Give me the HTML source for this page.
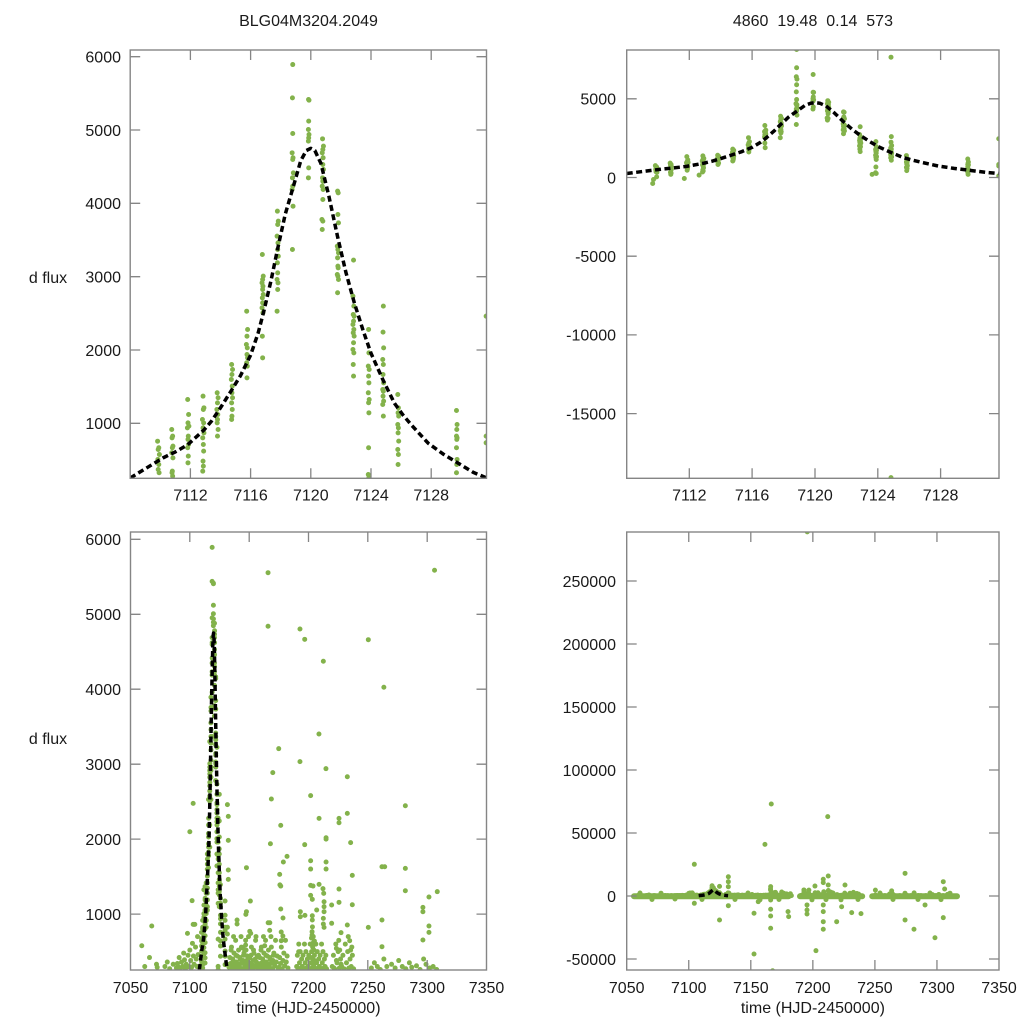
<!DOCTYPE html>
<html>
<head>
<meta charset="utf-8">
<style>
html,body{margin:0;padding:0;background:#fff;width:1024px;height:1024px;overflow:hidden;}
svg{display:block;position:absolute;left:0;top:0;}
text{font-family:"Liberation Sans",Arial,sans-serif;font-size:16px;fill:#1a1a1a;}
.dots{fill:none;stroke:#83b24b;stroke-width:5;stroke-linecap:round;vector-effect:non-scaling-stroke;}
.curve{fill:none;stroke:#000;stroke-width:3.5;stroke-dasharray:6 3.5;stroke-linejoin:round;vector-effect:non-scaling-stroke;}
.frame{fill:none;stroke:#858585;stroke-width:1.4;}
.tk{stroke:#858585;stroke-width:1.3;fill:none;}
</style>
</head>
<body>
<svg width="1024" height="1024" viewBox="0 0 1024 1024" xmlns="http://www.w3.org/2000/svg">
<defs>
<clipPath id="cTL"><rect x="130.2" y="50" width="356.3" height="428.3"/></clipPath>
<clipPath id="cTR"><rect x="626.7" y="50" width="372.3" height="428.3"/></clipPath>
<clipPath id="cBL"><rect x="130.5" y="532" width="356" height="438"/></clipPath>
<clipPath id="cBR"><rect x="626.7" y="532" width="372.3" height="438"/></clipPath>

<path id="ev" class="dots" d="M109.82 756h0M109.9 666h0M109.86 643h0M109.94 575h0M109.84 507h0M109.9 438h0M109.86 370h0M109.92 325h0
M110.76 916h0M110.82 825h0M110.78 802h0M110.84 689h0M110.8 666h0M110.76 598h0M110.84 529h0M110.8 347h0M110.78 325h0M110.82 280h0
M111.82 1325h0M111.88 1120h0M111.84 1006h0M111.9 961h0M111.8 938h0M111.86 825h0M111.84 780h0M111.88 711h0M111.82 666h0M111.86 552h0M111.84 461h0
M112.84 1370h0M112.9 1211h0M112.86 1189h0M112.8 1052h0M112.88 1006h0M112.84 938h0M112.9 870h0M112.82 802h0M112.86 711h0M112.88 620h0M112.84 484h0M112.86 416h0M112.82 347h0
M113.78 1416h0M113.84 1348h0M113.8 1279h0M113.76 1189h0M113.82 1120h0M113.8 1052h0M113.78 1006h0M113.84 916h0M113.8 825h0
M114.74 1802h0M114.8 1734h0M114.76 1666h0M114.72 1598h0M114.78 1507h0M114.76 1416h0M114.8 1348h0M114.74 1279h0M114.78 1189h0M114.76 1098h0M114.74 1052h0
M115.74 2529h0M115.8 2279h0M115.76 2188h0M115.72 2075h0M115.78 2029h0M115.76 1938h0M115.8 1893h0M115.74 1825h0M115.78 1779h0M115.76 1620h0
M116.78 3302h0M116.84 3007h0M116.8 2961h0M116.76 2916h0M116.82 2870h0M116.8 2825h0M116.84 2757h0M116.78 2711h0M116.8 2643h0M116.76 2575h0M116.82 2507h0M116.78 2188h0M116.8 1893h0
M117.78 3893h0M117.84 3757h0M117.8 3711h0M117.76 3552h0M117.82 3461h0M117.8 3370h0M117.84 3279h0M117.78 3189h0M117.8 3052h0M117.76 2961h0M117.82 2916h0M117.8 2825h0M117.76 2529h0
M118.8 5893h0M118.78 5439h0M118.8 4952h0M118.76 4689h0M118.82 4621h0M118.8 4598h0M118.84 4416h0M118.78 4348h0M118.8 4234h0M118.76 4189h0M118.82 3961h0M118.78 3370h0
M119.85 5416h0M119.88 5407h0M119.86 5121h0M119.84 5007h0M119.88 4939h0M119.86 4893h0M119.84 4848h0M119.86 4484h0M119.84 4348h0
M120.78 4880h0M120.84 4780h0M120.8 4734h0M120.76 4689h0M120.82 4621h0M120.8 4530h0M120.84 4462h0M120.78 4348h0M120.8 4302h0M120.76 4234h0M120.82 4189h0M120.8 4052h0M120.74 3780h0M120.8 3757h0M120.76 3643h0
M121.78 4166h0M121.82 4143h0M121.8 3848h0M121.84 3734h0M121.76 3416h0M121.8 3370h0M121.84 3325h0M121.78 3257h0M121.8 3143h0M121.82 3120h0M121.76 3029h0M121.8 3007h0M121.84 2961h0M121.78 2780h0
M122.84 3225h0M122.8 2734h0M122.86 2598h0M122.82 2484h0M122.88 2461h0M122.84 2393h0M122.8 2348h0M122.86 2280h0M122.82 2234h0M122.88 2189h0M122.84 2098h0M122.8 2007h0M122.86 1961h0M122.82 1802h0M122.84 1643h0
M123.84 2280h0M123.86 1961h0M123.82 1780h0M123.88 1734h0M123.84 1643h0M123.86 1552h0M123.82 1416h0M123.88 1325h0M123.84 1280h0M123.86 1143h0M123.84 666h0M123.82 302h0M123.86 257h0
M124.82 2598h0M124.8 2243h0M124.84 2029h0M124.78 1870h0M124.82 1802h0M124.8 1666h0M124.84 1552h0M124.78 1461h0M124.82 1438h0M124.8 1370h0M124.84 1302h0M124.78 1257h0M124.82 1098h0
M125.78 1393h0M125.82 1211h0M125.8 1143h0M125.84 1098h0M125.78 984h0M125.82 938h0M125.8 870h0M125.84 757h0M125.78 643h0M125.82 575h0M125.8 438h0
M129.68 1175h0M129.72 984h0M129.7 916h0M129.68 825h0M129.72 802h0M129.7 780h0M129.68 666h0M129.72 507h0M129.7 438h0M129.68 325h0M129.7 200h0
M131.65 2461h0M131.65 825h0M131.65 734h0M131.65 100h0
M109.65 -380h0M109.7 -127h0M109.9 38h0M110.8 200h0M111.66 -63h0M112.6 150h0M123.6 200h0"/>

<path id="evx" class="dots" d="M118.8 8130h0M118.8 6971h0M118.78 6400h0M118.82 6250h0M119.85 6546h0M124.8 7643h0M124.8 -19066h0"/>

<path id="bl" class="dots" d="M59.5 578h0M67.9 841h0M165.9 5555h0M306.2 5587h0M165.9 4840h0M192.8 4804h0M196.8 4666h0M250.4 4661h0M212.5 4373h0M263.5 4026h0M208.8 3403h0M174.9 3207h0M192.8 3034h0M214.7 2940h0M169.9 2887h0M232.7 2833h0M201.8 2580h0M168.7 2535h0M102.8 2477h0M281.6 2446h0M232.7 2344h0M208.9 2277h0M225.7 2277h0M225.7 2219h0M100 2099h0M176.6 2184h0M214.8 2019h0M214.8 2001h0M132.4 2304h0M132.4 1984h0M167.9 1939h0M196.8 1926h0M235.5 1953h0M181.9 1770h0M178.8 1695h0M201.8 1712h0M201.8 1601h0M214.8 1695h0M214.8 1601h0M261.9 1632h0M264.2 1632h0M281.6 1610h0M147.7 1619h0M132.4 1588h0M132.4 1463h0M175.7 1530h0M176.6 1374h0M175.9 1390h0M236.9 1517h0M201.8 1383h0M203.8 1374h0M208.9 1397h0M212.2 1339h0M212.8 1277h0M225.7 1334h0M281.6 1312h0M308.5 1299h0M301.5 1228h0M101.9 1179h0M151 1174h0M201.8 1250h0M203.2 1197h0M219.5 1121h0M225.7 1157h0M236.9 1125h0M296.4 1090h0M296.4 1032h0M213.1 1165h0M213.1 1099h0M213.1 1032h0M176.6 1068h0M193.1 1032h0M193.1 965h0M147.7 1032h0M147.2 996h0M203.2 978h0M203.2 921h0M206.9 1054h0M197 983h0M178.5 948h0M139.8 921h0M139.8 868h0M166 885h0M167.4 885h0M212.5 943h0M212.5 868h0M219.5 877h0M232.7 854h0M250.4 823h0M261.9 921h0M104.2 863h0M102.8 863h0M301.5 841h0M301.5 756h0M150.5 770h0M151.3 743h0M167.3 783h0M177 761h0M178.4 707h0M177 645h0M203 765h0M204 700h0M205 640h0M203.5 610h0M213.1 823h0M227.4 752h0M98 743h0M296.4 654h0M234.7 645h0M261.9 565h0M147 587h0M144.8 543h0M163.1 578h0M191.7 498h0M223.5 543h0M226.3 520h0M235.5 520h0
M71.9 330h0M72.5 290h0M79 300h0M81 360h0M83 270h0M86 330h0M62 300h0M66 420h0
M88.7 280h0M89.5 340h0M90.2 300h0M91 420h0M92 270h0M93 360h0M94 300h0M94.8 480h0M95.5 390h0M96.3 270h0M97 330h0M98.5 450h0M99.2 300h0M100 520h0M100.7 380h0M101.5 290h0M102.2 610h0M103 440h0M103.6 330h0M104.8 560h0M105.4 400h0M106 300h0M106.5 700h0M107 460h0
M133 290h0M133.7 420h0M134.4 340h0M135.1 560h0M135.8 270h0M136.5 380h0M137.2 480h0M137.9 310h0M138.6 650h0M139.3 360h0M140 440h0M140.7 280h0M141.4 290h0M142.1 420h0M142.8 340h0M143.5 560h0M144.2 270h0M144.9 380h0M145.6 480h0M146.3 310h0M147 650h0M147.7 360h0M148.4 440h0M149.1 280h0M149.8 290h0M150.5 420h0M151.2 340h0M151.9 560h0M152.6 270h0M153.3 380h0M154 480h0M154.7 310h0M155.4 650h0M156.1 360h0M156.8 440h0M157.5 280h0M158.2 290h0M158.9 420h0M159.6 340h0M160.3 560h0M161 270h0M161.7 380h0M162.4 480h0M163.1 310h0M163.8 650h0M164.5 360h0M165.2 440h0M165.9 280h0M166.6 290h0M167.3 420h0M168 340h0M168.7 560h0M169.4 270h0M170.1 380h0M170.8 480h0M171.5 310h0M172.2 650h0M172.9 360h0M173.6 440h0M174.3 280h0M175 290h0M175.7 420h0M176.4 340h0M177.1 560h0M177.8 270h0M178.5 380h0M179.2 480h0M179.9 310h0M180.6 650h0M181.3 360h0M182 440h0M182.7 280h0
M133.35 330h0M134.05 260h0M134.75 520h0M135.45 300h0M136.15 400h0M136.85 700h0M137.55 350h0M138.25 270h0M138.95 450h0M139.65 330h0M140.35 260h0M141.05 520h0M141.75 300h0M142.45 400h0M143.15 700h0M143.85 350h0M144.55 270h0M145.25 450h0M145.95 330h0M146.65 260h0M147.35 520h0M148.05 300h0M148.75 400h0M149.45 700h0M150.15 350h0M150.85 270h0M151.55 450h0M152.25 330h0M152.95 260h0M153.65 520h0M154.35 300h0M155.05 400h0M155.75 700h0M156.45 350h0M157.15 270h0M157.85 450h0M158.55 330h0M159.25 260h0M159.95 520h0M160.65 300h0M161.35 400h0M162.05 700h0M162.75 350h0M163.45 270h0M164.15 450h0M164.85 330h0M165.55 260h0M166.25 520h0M166.95 300h0M167.65 400h0M168.35 700h0M169.05 350h0M169.75 270h0M170.45 450h0
M190 300h0M190.6 450h0M191.2 270h0M191.8 600h0M192.4 350h0M193 500h0M193.6 280h0M194.2 400h0M194.8 300h0M195.4 450h0M196 270h0M196.6 600h0M197.2 350h0M197.8 500h0M198.4 280h0M199 400h0M199.6 300h0M200.2 450h0M200.8 270h0M201.4 600h0M202 350h0M202.6 500h0M203.2 280h0M203.8 400h0M204.4 300h0M205 450h0M205.6 270h0M206.2 600h0M206.8 350h0M207.4 500h0M208 280h0M208.6 400h0M209.2 300h0M209.8 450h0M210.4 270h0M211 600h0M211.6 350h0M212.2 500h0M212.8 280h0M213.4 400h0M214 300h0M214.6 450h0M215.2 270h0
M202.5 680h0M203.5 560h0M204.5 520h0M203 720h0M205 380h0M202 420h0M204 330h0M203.3 830h0
M220 300h0M221 450h0M222 270h0M223 600h0M224 350h0M225 500h0M226 280h0M227 400h0M228 300h0M229 450h0M230 270h0M231 600h0M232 350h0M233 500h0M234 280h0M235 400h0M236 300h0M237 450h0M238 270h0M223.5 380h0M225.5 650h0M227.5 330h0M233.5 700h0M236.5 560h0M221.5 280h0
M253 280h0M255.5 350h0M258 300h0M260.5 260h0M263.5 400h0M266 300h0M270 330h0M273 280h0M276 380h0M279 300h0M282 270h0M285 350h0M287 290h0M291 310h0M294 260h0M297 400h0M299 330h0M302 280h0M305 300h0M308 260h0"/>

<path id="blx" class="dots" d="M104.5 25150h0M104.5 -5800h0M161.4 41000h0M131.9 15300h0M131.9 11350h0M131.9 7380h0M131.9 -7700h0M152.6 -46000h0M152.6 -13700h0M156 -4500h0M166 7400h0M166 -3200h0M166 -10500h0M166 -15900h0M166 -25600h0M167.6 -59300h0M180 -12400h0M180.5 -16400h0M195.3 -7100h0M195.3 -11100h0M195.3 -14300h0M201.7 7900h0M202.5 -43400h0M208.4 13300h0M208.4 10600h0M208.4 -7100h0M208.4 -12400h0M208.4 -20400h0M208.4 -26400h0M212.4 15900h0M212.4 8700h0M219.2 -20400h0M223.2 -8500h0M225.9 8700h0M231.3 -13200h0M238.8 -14000h0M274.3 18000h0M274.3 -19000h0M281.5 -26400h0M290.4 -7100h0M298.4 -33100h0M305.1 11350h0M305.1 -17200h0M166.5 73000h0M212 63000h0M195.5 289000h0"/>

<path id="cv" class="curve" d="M108 254L109 380L110.2 530L111 610L111.8 705L112.9 909L113.4 1030L113.9 1180L114.67 1430L115.33 1650L116 1930L116.5 2230L116.9 2546L117.35 2940L117.78 3364L118.3 3850L118.9 4273L119.33 4580L119.7 4720L120 4750L120.27 4720L120.67 4546L121.2 4100L121.78 3545L122.33 3060L122.9 2637L123.47 2270L124 1955L124.8 1590L125.56 1273L126.1 1120L126.67 980L127.8 728L128.8 580L129.8 455L130.8 330L131.7 254"/>
</defs>

<rect x="0" y="0" width="1024" height="1024" fill="#fff"/>

<!-- Titles -->
<text x="308.5" y="26" text-anchor="middle">BLG04M3204.2049</text>
<text x="812.9" y="26" text-anchor="middle" xml:space="preserve" style="white-space:pre">4860  19.48  0.14  573</text>

<!-- y labels -->
<text x="48" y="283" text-anchor="middle">d flux</text>
<text x="48" y="744" text-anchor="middle">d flux</text>

<!-- x labels -->
<text x="308.5" y="1013" text-anchor="middle">time (HJD-2450000)</text>
<text x="812.9" y="1013" text-anchor="middle">time (HJD-2450000)</text>

<!-- ===== Top-left ===== -->
<g clip-path="url(#cTL)">
  <g transform="matrix(15.05 0 0 -0.07332 -1495.2 496.62)">
    <use href="#ev"/>
    <use href="#cv"/>
  </g>
</g>
<rect class="frame" x="130.2" y="50" width="356.3" height="428.3"/>
<path class="tk" d="M130.2 56.7h10M130.2 130h10M130.2 203.3h10M130.2 276.7h10M130.2 350h10M130.2 423.3h10
M486.5 56.7h-10M486.5 130h-10M486.5 203.3h-10M486.5 276.7h-10M486.5 350h-10M486.5 423.3h-10
M190.4 478.3v-10M250.6 478.3v-10M310.8 478.3v-10M371 478.3v-10M431.2 478.3v-10
M190.4 50v10M250.6 50v10M310.8 50v10M371 50v10M431.2 50v10"/>
<g text-anchor="end">
<text x="121" y="62.5">6000</text>
<text x="121" y="135.8">5000</text>
<text x="121" y="209.1">4000</text>
<text x="121" y="282.5">3000</text>
<text x="121" y="355.8">2000</text>
<text x="121" y="429.1">1000</text>
</g>
<g text-anchor="middle">
<text x="190.4" y="500.5">7112</text>
<text x="250.6" y="500.5">7116</text>
<text x="310.8" y="500.5">7120</text>
<text x="371" y="500.5">7124</text>
<text x="431.2" y="500.5">7128</text>
</g>

<!-- ===== Top-right ===== -->
<g clip-path="url(#cTR)">
  <g transform="matrix(15.73 0 0 -0.01574 -1072.1 177.5)">
    <use href="#ev"/>
    <use href="#evx"/>
    <use href="#cv"/>
  </g>
</g>
<rect class="frame" x="626.7" y="50" width="372.3" height="428.3"/>
<path class="tk" d="M626.7 98.8h10M626.7 177.5h10M626.7 256.2h10M626.7 334.9h10M626.7 413.6h10
M999 98.8h-10M999 177.5h-10M999 256.2h-10M999 334.9h-10M999 413.6h-10
M689.3 478.3v-10M752.1 478.3v-10M815 478.3v-10M877.8 478.3v-10M940.6 478.3v-10
M689.3 50v10M752.1 50v10M815 50v10M877.8 50v10M940.6 50v10"/>
<g text-anchor="end">
<text x="616" y="104.6">5000</text>
<text x="616" y="183.3">0</text>
<text x="616" y="262">-5000</text>
<text x="616" y="340.7">-10000</text>
<text x="616" y="419.4">-15000</text>
</g>
<g text-anchor="middle">
<text x="689.3" y="500.5">7112</text>
<text x="752.1" y="500.5">7116</text>
<text x="815" y="500.5">7120</text>
<text x="877.8" y="500.5">7124</text>
<text x="940.6" y="500.5">7128</text>
</g>

<!-- ===== Bottom-left ===== -->
<g clip-path="url(#cBL)">
  <g transform="matrix(1.1867 0 0 -0.07495 71.17 989.04)">
    <use href="#bl"/>
    <use href="#ev"/>
    <use href="#cv"/>
  </g>
</g>
<rect class="frame" x="130.5" y="532" width="356" height="438"/>
<path class="tk" d="M130.5 539.3h10M130.5 614.3h10M130.5 689.2h10M130.5 764.2h10M130.5 839.1h10M130.5 914.1h10
M486.5 539.3h-10M486.5 614.3h-10M486.5 689.2h-10M486.5 764.2h-10M486.5 839.1h-10M486.5 914.1h-10
M189.8 970v-10M249.2 970v-10M308.5 970v-10M367.8 970v-10M427.2 970v-10
M189.8 532v10M249.2 532v10M308.5 532v10M367.8 532v10M427.2 532v10"/>
<g text-anchor="end">
<text x="121" y="545.1">6000</text>
<text x="121" y="620.1">5000</text>
<text x="121" y="695">4000</text>
<text x="121" y="770">3000</text>
<text x="121" y="844.9">2000</text>
<text x="121" y="919.9">1000</text>
</g>
<g text-anchor="middle">
<text x="130.5" y="993">7050</text>
<text x="189.8" y="993">7100</text>
<text x="249.2" y="993">7150</text>
<text x="308.5" y="993">7200</text>
<text x="367.8" y="993">7250</text>
<text x="427.2" y="993">7300</text>
<text x="486.5" y="993">7350</text>
</g>

<!-- ===== Bottom-right ===== -->
<g clip-path="url(#cBR)">
  <path d="M634 896.3H788.6M800 896.3H862.2M872.2 896.3H957" stroke="#83b24b" stroke-width="6" stroke-linecap="round" fill="none"/>
  <path d="M640 893h0M652 899.5h0M661 893.2h0M675 899h0M690 893h0M702 899.5h0M716 893.5h0M735 899.5h0M748 893h0M760 899.8h0M771 893h0M779 899.5h0M805 893h0M812 899.8h0M818 892.8h0M826 899.6h0M833 893h0M841 899.8h0M850 893.2h0M858 899.5h0M880 893h0M893 899.5h0M905 893.2h0M918 899.5h0M930 893h0M941 899.6h0M950 893.2h0" stroke="#83b24b" stroke-width="5" stroke-linecap="round" fill="none"/>
  <g transform="matrix(1.241 0 0 -0.00126 564.65 896)">
    <use href="#bl"/>
    <use href="#blx"/>
    <use href="#ev"/>
    <use href="#evx"/>
    <use href="#cv"/>
  </g>
</g>
<rect class="frame" x="626.7" y="532" width="372.3" height="438"/>
<path class="tk" d="M626.7 581h10M626.7 644h10M626.7 707h10M626.7 770h10M626.7 833h10M626.7 896h10M626.7 959h10
M999 581h-10M999 644h-10M999 707h-10M999 770h-10M999 833h-10M999 896h-10M999 959h-10
M688.75 970v-10M750.8 970v-10M812.85 970v-10M874.9 970v-10M936.95 970v-10
M688.75 532v10M750.8 532v10M812.85 532v10M874.9 532v10M936.95 532v10"/>
<g text-anchor="end">
<text x="616" y="586.8">250000</text>
<text x="616" y="649.8">200000</text>
<text x="616" y="712.8">150000</text>
<text x="616" y="775.8">100000</text>
<text x="616" y="838.8">50000</text>
<text x="616" y="901.8">0</text>
<text x="616" y="964.8">-50000</text>
</g>
<g text-anchor="middle">
<text x="626.7" y="993">7050</text>
<text x="688.75" y="993">7100</text>
<text x="750.8" y="993">7150</text>
<text x="812.85" y="993">7200</text>
<text x="874.9" y="993">7250</text>
<text x="936.95" y="993">7300</text>
<text x="999" y="993">7350</text>
</g>
</svg>
</body>
</html>
